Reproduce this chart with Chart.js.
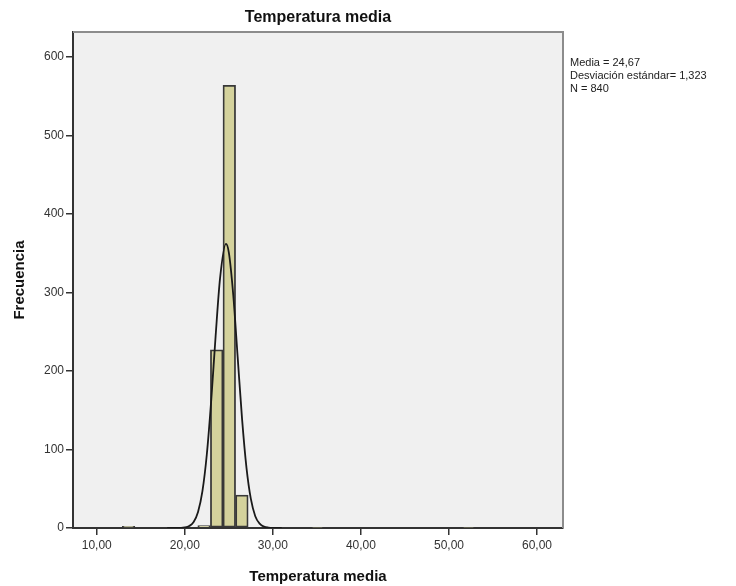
<!DOCTYPE html>
<html>
<head>
<meta charset="utf-8">
<script src="https://cdn.jsdelivr.net/npm/chart.js@4/dist/chart.umd.min.js"></script>
<style>
  html, body { margin: 0; padding: 0; background: #ffffff; }
  #wrap { width: 736px; height: 586px; }
</style>
</head>
<body>
<div id="wrap"><canvas id="histChart" width="736" height="586"></canvas></div>
<script>
// histogram bins (centres of the 1,43-wide bins that hold data)
const binCenters = [13.61, 22.19, 23.62, 25.05, 26.48, 35.06, 52.22];
const frequencies = [2, 3, 227, 564, 42, 1, 1];

// normal curve
const curveX = [18, 19, 20, 20.5, 21, 21.5, 22, 22.5, 23, 23.5, 24, 24.67, 25, 25.5, 26, 26.5, 27, 27.5, 28, 28.5, 29, 29.5, 30, 31];
const curveY = [0, 0, 0.7, 2.5, 7.7, 20.5, 47, 94, 163, 245, 318, 362, 351, 297, 218, 139, 77, 37, 15, 5.5, 1.7, 0.5, 0.1, 0];

const xTicks = [10, 20, 30, 40, 50, 60];
const yTicks = [0, 100, 200, 300, 400, 500, 600];

const statsLines = ["Media = 24,67", "Desviación estándar= 1,323", "N = 840"];

document.addEventListener("DOMContentLoaded", () => {
  const canvas = document.getElementById("histChart");

  const plotFrame = {
    id: "plotFrame",
    beforeDraw(chart) {
      const { ctx, chartArea: a } = chart;
      ctx.save();
      ctx.fillStyle = "#f0f0f0";
      ctx.fillRect(a.left, a.top, a.right - a.left, a.bottom - a.top);
      ctx.restore();
    },
    afterDraw(chart) {
      const { ctx, chartArea: a } = chart;
      ctx.save();
      ctx.strokeStyle = "#8c8c8c";
      ctx.lineWidth = 2;
      ctx.beginPath();
      ctx.moveTo(a.left, a.top);
      ctx.lineTo(a.right, a.top);
      ctx.lineTo(a.right, a.bottom);
      ctx.stroke();
      // stats box text
      ctx.fillStyle = "#222222";
      ctx.font = "11px 'Liberation Sans', Arial, sans-serif";
      ctx.textBaseline = "alphabetic";
      statsLines.forEach((line, i) => {
        ctx.fillText(line, a.right + 7, a.top + 34 + i * 13);
      });
      ctx.restore();
    },
  };

  new Chart(canvas, {
    type: "bar",
    data: {
      datasets: [
        {
          type: "line",
          data: curveX.map((x, i) => ({ x, y: curveY[i] })),
          borderColor: "#1a1a1a",
          borderWidth: 1.8,
          pointRadius: 0,
          cubicInterpolationMode: "monotone",
          fill: false,
          order: 0,
        },
        {
          data: binCenters.map((x, i) => ({ x, y: frequencies[i] })),
          backgroundColor: "#d4d29c",
          borderColor: "#383838",
          borderWidth: 1.8,
          borderSkipped: false,
          barPercentage: 1,
          categoryPercentage: 1,
          order: 1,
        },
      ],
    },
    options: {
      responsive: false,
      animation: false,
      layout: { padding: { left: 0, right: 173, top: 0, bottom: 0 } },
      plugins: {
        legend: { display: false },
        tooltip: { enabled: false },
        title: {
          display: true,
          text: "Temperatura media",
          fullSize: false,
          color: "#111111",
          font: { family: "'Liberation Sans', Arial, sans-serif", size: 16, weight: "bold", lineHeight: 1.2 },
          padding: { top: 8, bottom: 4.8 },
        },
      },
      scales: {
        x: {
          type: "linear",
          min: 7.3,
          max: 62.95,
          offset: false,
          afterFit: (s) => { s.height = 58; },
          afterBuildTicks: (s) => { s.ticks = xTicks.map((v) => ({ value: v })); },
          ticks: {
            color: "#333333",
            font: { family: "'Liberation Sans', Arial, sans-serif", size: 12 },
            padding: 3,
            maxRotation: 0,
            callback: (v) => v.toFixed(2).replace(".", ","),
          },
          grid: { offset: false, drawOnChartArea: false, drawTicks: true, tickLength: 7, color: "#333333", lineWidth: 1.5 },
          border: { display: true, color: "#333333", width: 2 },
          title: {
            display: true,
            text: "Temperatura media",
            color: "#111111",
            font: { family: "'Liberation Sans', Arial, sans-serif", size: 15, weight: "bold", lineHeight: 1.2 },
            padding: { top: 0, bottom: 0 },
          },
        },
        y: {
          min: 0,
          max: 632,
          afterFit: (s) => { s.width = 73; },
          afterBuildTicks: (s) => { s.ticks = yTicks.map((v) => ({ value: v })); },
          ticks: {
            color: "#333333",
            font: { family: "'Liberation Sans', Arial, sans-serif", size: 12 },
            padding: 2,
          },
          grid: { drawOnChartArea: false, drawTicks: true, tickLength: 7, color: "#333333", lineWidth: 1.5 },
          border: { display: true, color: "#333333", width: 2 },
          title: {
            display: true,
            text: "Frecuencia",
            color: "#111111",
            font: { family: "'Liberation Sans', Arial, sans-serif", size: 15, weight: "bold", lineHeight: 1.2 },
            padding: { top: 11, bottom: 0 },
          },
        },
      },
    },
    plugins: [plotFrame],
  });
});
</script>
</body>
</html>
